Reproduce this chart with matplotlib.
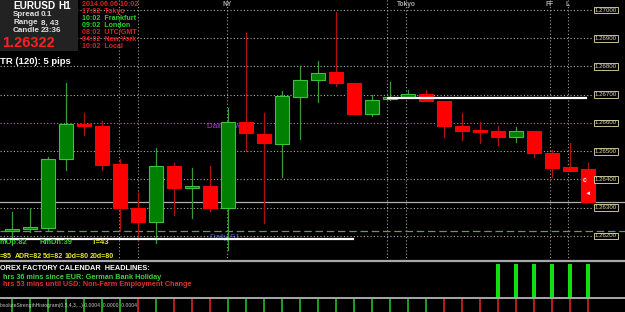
import numpy as np
import matplotlib
matplotlib.use('Agg')
from matplotlib import pyplot as plt
from matplotlib.patches import Rectangle
from matplotlib.lines import Line2D

# EURUSD H1 candles, oldest first
opens = [1.26218, 1.26225, 1.26228, 1.26473, 1.26596, 1.26589, 1.26455, 1.26299,
         1.26250, 1.26448, 1.26370, 1.26377, 1.26299, 1.26604, 1.26561, 1.26526,
         1.26692, 1.26752, 1.26781, 1.26742, 1.26632, 1.26685, 1.26692, 1.26703,
         1.26678, 1.26589, 1.26575, 1.26572, 1.26550, 1.26572, 1.26494, 1.26444, 1.26437]
highs = [1.26285, 1.26296, 1.26480, 1.26742, 1.26635, 1.26607, 1.26473, 1.26352,
         1.26511, 1.26458, 1.26441, 1.26448, 1.26653, 1.26919, 1.26635, 1.26713,
         1.26802, 1.26819, 1.26993, 1.26742, 1.26699, 1.26745, 1.26717, 1.26717,
         1.26678, 1.26635, 1.26604, 1.26589, 1.26586, 1.26572, 1.26504, 1.26529, 1.26458]
lows = [1.26196, 1.26214, 1.26221, 1.26434, 1.26558, 1.26434, 1.26221, 1.26186,
        1.26175, 1.26274, 1.26264, 1.26288, 1.26150, 1.26501, 1.26246, 1.26409,
        1.26543, 1.26674, 1.26731, 1.26632, 1.26625, 1.26681, 1.26688, 1.26678,
        1.26550, 1.26540, 1.26529, 1.26522, 1.26533, 1.26480, 1.26409, 1.26430, 1.26320]
closes = [1.26225, 1.26232, 1.26473, 1.26596, 1.26589, 1.26451, 1.26299, 1.26250,
          1.26448, 1.26370, 1.26377, 1.26299, 1.26604, 1.26565, 1.26529, 1.26696,
          1.26752, 1.26777, 1.26742, 1.26632, 1.26681, 1.26692, 1.26703, 1.26678,
          1.26589, 1.26572, 1.26568, 1.26550, 1.26572, 1.26494, 1.26441, 1.26430, 1.26322]

price_levels = [1.27000, 1.26900, 1.26800, 1.26700, 1.26600, 1.26500, 1.26400, 1.26300, 1.26200]
bid = 1.26322
pivot = 1.26600
s1 = 1.26216
day_low_line = 1.26189
day_open_line = 1.26687

session_pos = [5.94, 7.0, 11.94, 20.83, 21.89, 29.89, 30.89]
session_names = ['', '', 'NY', '', 'Tokyo', 'FF', 'L']

hist_up = [1, 1, 1, 1, 1, 1, 1, 0, 1, 0, 0, 0, 1, 1, 1, 1, 1,
           1, 1, 1, 1, 1, 1, 1, 0, 0, 0, 0, 0, 0, 0, 0, 0]
news_bars = [27, 28, 29, 30, 31, 32]

W, H = 625, 312
FONT = 'Liberation Sans'


def px_rect(x0, y0, x1, y1):
    return [x0 / W, 1 - y1 / H, (x1 - x0) / W, (y1 - y0) / H]


fig = plt.figure(figsize=(6.25, 3.12), dpi=100, facecolor='black')
xlim = (-12 / 18, (W - 12) / 18)

# main price panel
ax = fig.add_axes(px_rect(0, 0, W, 261))
ax.set_facecolor('black')
ax.set_xlim(*xlim)
ax.set_ylim(1.27 - 251 * 0.0000354, 1.27 + 10 * 0.0000354)
ax.axis('off')

grid_col = '#b0b0a0'
for lv in price_levels:
    col = '#c070c0' if lv == pivot else grid_col
    ax.plot([xlim[0], 32.2], [lv, lv], color=col, lw=0.8,
            ls=(0, (1, 2)), zorder=1)
for xp, name in zip(session_pos, session_names):
    ax.axvline(xp, color='#a0a0a0', lw=0.8, ls=(0, (1, 2)), zorder=1)
    if name:
        ax.text(xp, 1.27 + 6 * 0.0000354, name, color='#a8a8a8', fontsize=4.8,
                fontweight='bold', family=FONT, ha='center', va='center', zorder=2)

ax.axhline(bid, color='#b0b0b0', lw=0.9, zorder=1)
ax.axhline(s1, color='#709070', lw=0.9, ls=(0, (6, 3)), zorder=1)
ax.plot([xlim[0], 18.94], [day_low_line, day_low_line], color='white', lw=1.6, zorder=4)
ax.plot([20.9, 31.9], [day_open_line, day_open_line], color='white', lw=1.6, zorder=4)
ax.text((207 - 12) / 18, pivot - 0.00013, 'Daily Pivot', color='#b040d8',
        fontsize=5.8, family=FONT, va='center', zorder=2)
ax.text((210 - 12) / 18, s1 - 0.0002, 'Daily S1', color='#4a6ad0',
        fontsize=5.8, family=FONT, va='center', zorder=2)

bw = 0.78
for i, (o, h, l, c) in enumerate(zip(opens, highs, lows, closes)):
    up = c >= o
    wick = '#3a9a3a' if up else '#b01010'
    fill = '#008000' if up else '#ff0000'
    edge = '#40c040' if up else '#ff0000'
    ax.plot([i, i], [l, h], color=wick, lw=0.9, zorder=3)
    bot = min(o, c)
    hgt = max(abs(c - o), 0.00005)
    ax.add_patch(Rectangle((i - bw / 2, bot), bw, hgt, facecolor=fill,
                           edgecolor=edge, lw=0.8, zorder=3))

# price labels on the right
for lv in price_levels:
    ax.text(606 / W, lv, '%.5f' % lv, transform=ax.get_yaxis_transform(),
            color='#e0d8b0', fontsize=4.4, family=FONT, ha='center', va='center',
            zorder=5, bbox=dict(boxstyle='square,pad=0.15', fc='black',
                                ec='#c8c090', lw=0.7))

# calendar panel
cal = fig.add_axes(px_rect(0, 262, W, 298))
cal.set_facecolor('black')
cal.set_xlim(*xlim)
cal.set_ylim(0, 1)
cal.axis('off')
cal.bar(news_bars, [0.95] * len(news_bars), width=0.22, color='#10e010')

# histogram panel
hist = fig.add_axes(px_rect(0, 299, W, H))
hist.set_facecolor('black')
hist.set_xlim(*xlim)
hist.set_ylim(0, 1)
hist.axis('off')
hist.vlines(range(len(hist_up)), 0, 1,
            colors=['#20c020' if u else '#e02020' for u in hist_up], lw=1.2)

# overlay for text, in pixel coordinates
ov = fig.add_axes([0, 0, 1, 1])
ov.set_xlim(0, W)
ov.set_ylim(H, 0)
ov.axis('off')
ov.patch.set_alpha(0)

fig.add_artist(Line2D([0, 1], [1 - 261 / H] * 2, color='#a8a8a8', lw=1.6))
fig.add_artist(Line2D([0, 1], [1 - 298 / H] * 2, color='#a8a8a8', lw=1.4))

ov.add_patch(Rectangle((0, 0), 78, 51, facecolor='#222222', edgecolor='none'))


def t(x, y, s, col, size, bold=True, **kw):
    ov.text(x, y, s, color=col, fontsize=size, family=FONT,
            fontweight='bold' if bold else 'normal', va='center', **kw)


t(13, 6, 'EURUSD', 'white', 7.2)
t(58, 6, 'H1', 'white', 7.2)
for y, a, b in [(15, 'Spread', '0.1'), (23, 'Range', '8, 43'), (30, 'Candle', '23:36')]:
    t(13, y, a, '#e0e0e0', 5.8)
    t(41, y, b, '#e0e0e0', 5.8)
t(2, 43, '1.26322', '#ff2020', 10.5)

red, green = '#e02020', '#30d030'
sess = [('2014.06.06 10:02', red), ('17:02  Tokyo', red), ('10:02  Frankfurt', green),
        ('09:02  London', green), ('08:02  UTC/GMT', red), ('04:02  New York', red),
        ('10:02  Local', red)]
for k, (s, col) in enumerate(sess):
    t(82, 5 + k * 6.9, s, col, 5.1)

t(0, 62, 'TR (120): 5 pips', 'white', 6.8)

t(0, 242, 'mOp:82', green, 5.4)
t(40, 242, 'RmDn:39', green, 5.4)
t(92, 242, 'T=43', '#e8e820', 5.4)
for x, s in [(0, '=85'), (15, 'ADR=82'), (43, '5d=82'), (65, '10d=80'), (90, '20d=80')]:
    t(x, 256, s, '#e8e820', 5.0)

t(0, 269, 'OREX FACTORY CALENDAR  HEADLINES:', 'white', 5.3)
t(3, 277.5, 'hrs 36 mins since EUR: German Bank Holiday', '#40d040', 5.2)
t(3, 285, 'hrs 53 mins until USD: Non-Farm Employment Change', '#e03030', 5.2)

t(0, 305, 'bsoluteStrengthHistogram(0,5,4,3,...) 0.0004  0.0000  0.0004', '#c8c8c8', 3.6,
  bold=False)

t(583, 181, 'c', '#f0f0f0', 5)
t(585, 193, '\u25c4', '#f0f0f0', 4.5)

plt.savefig('out.png', dpi=100, facecolor='black')
